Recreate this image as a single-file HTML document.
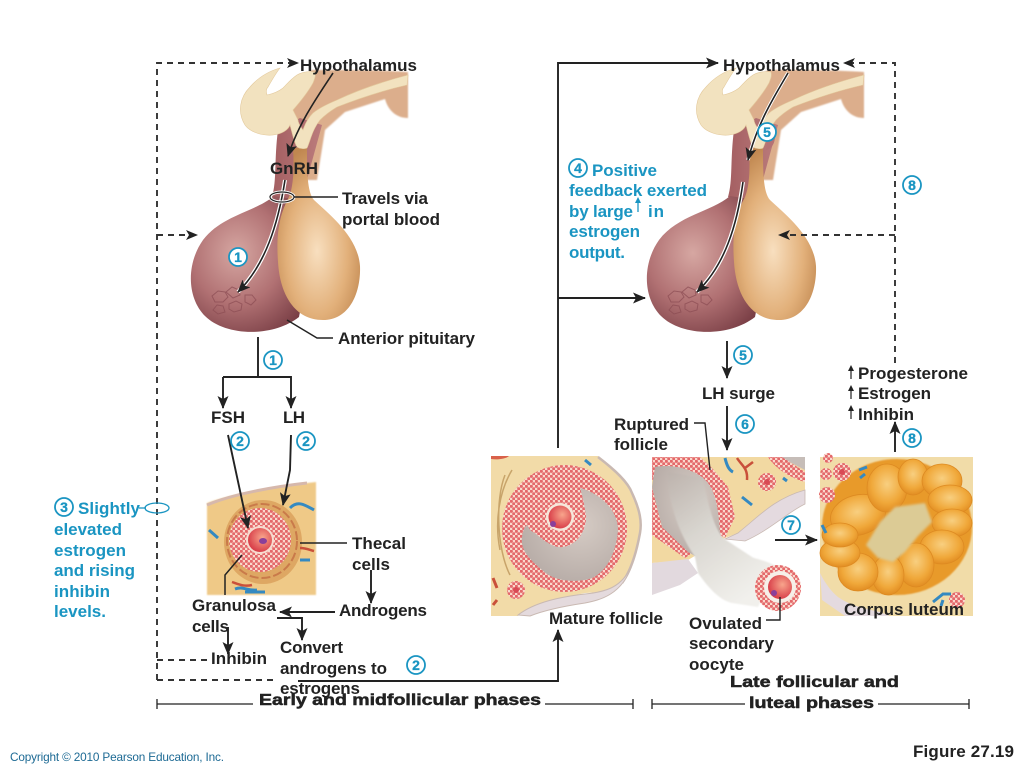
<!DOCTYPE html>
<html><head><meta charset="utf-8"><title>Figure 27.19</title>
<style>
html,body{margin:0;padding:0;background:#fff;width:1024px;height:768px;overflow:hidden}
svg{display:block}
text{font-family:"Liberation Sans",Arial,sans-serif;font-weight:bold;font-size:17px;fill:#222}
.t text,text.t{fill:#1a95c2}
.n circle{fill:#fff;stroke:#1a95c2;stroke-width:1.8}
.n text{fill:#1a95c2;font-size:14px;text-anchor:middle;stroke:#1a95c2;stroke-width:.3}
.l{fill:none;stroke:#222;stroke-width:1.9}
.d{fill:none;stroke:#333;stroke-width:1.9;stroke-dasharray:6 5}
</style></head><body>
<svg width="1024" height="768" viewBox="0 0 1024 768" xmlns="http://www.w3.org/2000/svg">
<defs>
<marker id="a" viewBox="0 0 13 11" refX="12" refY="5.5" markerWidth="13" markerHeight="11" markerUnits="userSpaceOnUse" orient="auto"><path d="M0 0L13 5.5L0 11L3 5.5Z" fill="#222"/></marker>
<radialGradient id="lr" cx=".38" cy=".42" r=".68"><stop offset="0" stop-color="#d6a7a2"/><stop offset=".55" stop-color="#b17173"/><stop offset="1" stop-color="#7a3f46"/></radialGradient>
<radialGradient id="lt" cx=".48" cy=".6" r=".62"><stop offset="0" stop-color="#f8dfbf"/><stop offset=".6" stop-color="#e2b07a"/><stop offset="1" stop-color="#c08750"/></radialGradient>
<linearGradient id="st" x1="0" x2="1"><stop offset="0" stop-color="#a45f62"/><stop offset="1" stop-color="#bb7c7c"/></linearGradient>
<linearGradient id="jet" x1="0" y1="0" x2=".6" y2="1"><stop offset="0" stop-color="#bdb3ad"/><stop offset=".45" stop-color="#d9d6d0"/><stop offset="1" stop-color="#f1f0ec"/></linearGradient>
<pattern id="g" width="5" height="5" patternUnits="userSpaceOnUse"><rect width="5" height="5" fill="#f9d8cc"/><circle cx="1.3" cy="1.3" r="1.6" fill="#e4676a"/><circle cx="3.8" cy="3.8" r="1.6" fill="#e4676a"/></pattern>
<radialGradient id="egg" cx=".6" cy=".4" r=".6"><stop offset="0" stop-color="#f8a58c"/><stop offset="1" stop-color="#d9404a"/></radialGradient>
<radialGradient id="ant" cx=".6" cy=".4" r=".7"><stop offset="0" stop-color="#d6ccc5"/><stop offset="1" stop-color="#b5aaa5"/></radialGradient>
<radialGradient id="lob" cx=".5" cy=".42" r=".6"><stop offset="0" stop-color="#f8cf80"/><stop offset=".65" stop-color="#f0a83a"/><stop offset="1" stop-color="#e08a20"/></radialGradient>
<filter id="b"><feGaussianBlur stdDeviation=".7"/></filter>
<filter id="s"><feGaussianBlur stdDeviation=".35"/></filter>
<filter id="b2"><feGaussianBlur stdDeviation="1.2"/></filter>
<g id="pit">
<path d="M312 70C345 70 380 70 408 72L408 118C396 118 388 110 385 99L345 112L325 130L317 180L296 180L285 130L290 85Z" fill="#dcae8c" filter="url(#b)"/>
<path d="M278 130C274 160 277 180 272 197L300 205L322 125L300 118Z" fill="url(#st)"/>
<path d="M274 196C255 212 222 215 203 240C186 264 187 298 205 316C225 336 272 338 299 317L312 250L300 200Z" fill="url(#lr)"/>
<path d="M293 148C294 165 294 185 289 197C279 215 276 235 278 262C280 295 295 320 323 320C350 320 361 292 360 266C358 237 330 215 314 200C307 192 307 170 307 148Z" fill="url(#lt)"/>
<path d="M280 68C266 72 256 80 250 87C240 97 237 112 245 125C250 132 262 136 273 135C282 134 288 130 290 125C292 132 294 142 297 147C300 149 305 149 307 148C310 142 312 130 320 120C326 114 332 110 337 107C360 98 385 90 407 85L408 75C385 81 358 90 337 100C325 105 318 109 313 113C308 118 305 124 303 130C300 126 298 122 298 120C296 116 294 112 293 110C300 102 308 92 313 83C315 78 316 75 315 72C308 71 302 72 297 75C291 79 287 84 283 88C278 92 272 94 267 95C266 92 266 89 268 87C272 80 276 73 280 68Z" fill="#f2e2bf" stroke="#e3c99c" stroke-width=".6"/>
<g fill="none" stroke="#8a4c52" stroke-width="1" opacity=".7"><path d="M212 296l6-5 7 1 3 5-5 5-8 0zM226 292l6-5 7 3 1 5-7 3zM229 304l7-3 6 3-1 6-7 2-5-3zM245 295l7 0 4 5-5 5-6-3zM217 305l6 1 2 6-7 2-5-4z"/></g>
</g>
</defs>
<rect width="1024" height="768" fill="#fff"/>
<use href="#pit"/>
<use href="#pit" x="456"/>
<path d="M766 150c8 -2 9 -10 9 -14l-8 2c1 4 -1 8 -1 12z" fill="#b57275"/>

<!-- left pituitary arrows -->
<path d="M333 73C315 100 298 125 288 156" fill="none" stroke="#222" stroke-width="1.6" marker-end="url(#a)"/>
<path d="M285 180C278 225 265 265 238 292" fill="none" stroke="#fff" stroke-width="4"/>
<path d="M285 180C278 225 265 265 238 292" fill="none" stroke="#222" stroke-width="1.6" marker-end="url(#a)"/>
<ellipse cx="282" cy="197" rx="12" ry="5" fill="none" stroke="#fff" stroke-width="3"/>
<ellipse cx="282" cy="197" rx="12" ry="5" fill="none" stroke="#222" stroke-width="1.2"/>
<path class="l" style="stroke-width:1.4" d="M294 197H338M287 320L317 338H333"/>
<!-- right pituitary arrows -->
<path d="M788 73C772 100 757 125 748 160" fill="none" stroke="#fff" stroke-width="3.5"/>
<path d="M788 73C772 100 757 125 748 160" fill="none" stroke="#222" stroke-width="1.6" marker-end="url(#a)"/>
<path d="M743 182C737 225 725 265 697 292" fill="none" stroke="#fff" stroke-width="4"/>
<path d="M743 182C737 225 725 265 697 292" fill="none" stroke="#222" stroke-width="1.6" marker-end="url(#a)"/>

<!-- connectors -->
<path class="d" d="M157 680V63H290"/><path d="M287 58L299 63L287 68L290 63Z" fill="#222"/>
<path class="d" d="M157 235H190"/><path d="M186 230L198 235L186 240L189 235Z" fill="#222"/>
<path class="d" d="M157 660H208M157 680H274"/>
<path class="l" d="M558 448V63H718" marker-end="url(#a)"/>
<path class="l" d="M558 298H645" marker-end="url(#a)"/>
<path class="l" d="M298 681H558V630" marker-end="url(#a)"/>
<path class="d" d="M895 363V63H850"/><path d="M855 58L843 63L855 68L852 63Z" fill="#222"/>
<path class="d" d="M895 235H785"/><path d="M790 230L778 235L790 240L787 235Z" fill="#222"/>
<path class="l" d="M258 337V377M223 377H291V408" marker-end="url(#a)"/>
<path class="l" d="M223 377V408" marker-end="url(#a)"/>
<path class="l" d="M727 341V378" marker-end="url(#a)"/>
<path class="l" d="M727 406V450" marker-end="url(#a)"/>
<path class="l" d="M895 452V422" marker-end="url(#a)"/>
<path class="l" d="M775 540H817" marker-end="url(#a)"/>
<path class="l" d="M157 699V709M157 704H253M545 704H633M633 699V709M652 699V709M652 704H745M878 704H969M969 699V709" style="stroke-width:1.3"/>
<g fill="#222"><path d="M851 379V369" stroke="#222" stroke-width="1.2"/><path d="M851 365l-3 6h6z"/><path d="M851 399V389" stroke="#222" stroke-width="1.2"/><path d="M851 385l-3 6h6z"/><path d="M851 419V409" stroke="#222" stroke-width="1.2"/><path d="M851 405l-3 6h6z"/></g>
<path d="M638 212V201" stroke="#1a95c2" stroke-width="1.3"/><path d="M638 197l-3 6h6z" fill="#1a95c2"/>

<!-- small follicle -->
<g>
<path d="M207 503C235 493 280 486 316 482V595H207Z" fill="#efc987" filter="url(#b)"/>
<path d="M207 505C235 493 280 486 307 483" fill="none" stroke="#d6b8ac" stroke-width="3"/>
<ellipse cx="263" cy="542" rx="39" ry="42" fill="#dea763"/>
<ellipse cx="262" cy="541" rx="35" ry="37" fill="none" stroke="#c97a4a" stroke-width="2" stroke-dasharray="9 3"/>
<ellipse cx="260" cy="540" rx="31" ry="32" fill="url(#g)" filter="url(#s)"/>
<circle cx="260" cy="540" r="14" fill="#f7dcd0"/><circle cx="260" cy="540" r="12" fill="url(#egg)"/>
<ellipse cx="263" cy="541" rx="4" ry="3" fill="#8a3f9a"/>
<path d="M290 508C298 500 305 505 314 510" fill="none" stroke="#3489c1" stroke-width="3"/>
<path d="M209 530l9 8M300 560h10M235 589c8-3 12 2 22 1M245 592h20" stroke="#3489c1" stroke-width="3" fill="none"/>
<path d="M300 548c6 0 10 2 14 3M232 582c6 2 12 5 20 3" stroke="#c9503a" stroke-width="2.5" fill="none"/>
</g>
<path d="M228 435L248 528" class="l" marker-end="url(#a)"/>
<path d="M291 435L290 470L283 505" class="l" marker-end="url(#a)"/>
<path class="l" style="stroke-width:1.5" d="M300 543H347M242 555L225 575V595"/>
<path class="l" d="M371 570V603" marker-end="url(#a)"/>
<path class="l" d="M335 612H280" marker-end="url(#a)"/>
<path class="l" d="M277 618H302V640" marker-end="url(#a)"/>
<path class="l" d="M228 627V654" marker-end="url(#a)"/>

<!-- mature follicle -->
<g>
<path d="M491 456H598C615 470 628 482 632 493C640 510 642 522 640 533C636 555 630 572 622 583C610 592 600 592 585 593C560 598 535 605 518 616H491Z" fill="#f2dba8" filter="url(#s)"/>
<path d="M598 457C615 470 628 482 632 493C640 510 642 522 640 533C636 555 630 572 622 583" fill="none" stroke="#c9b9b2" stroke-width="2.5"/>
<path d="M518 615C535 602 560 597 585 594C605 592 622 588 632 565C622 595 600 600 585 603C565 606 545 610 530 616Z" fill="#e4dadd" stroke="#c9b9b2" stroke-width="1"/>
<path d="M505 475C495 500 497 550 510 575M512 470C500 490 494 520 500 550" stroke="#c8a46a" stroke-width="1.5" fill="none"/>
<ellipse cx="564.5" cy="528.5" rx="62.5" ry="63.5" fill="url(#g)" filter="url(#s)"/>
<path d="M580 488C600 493 618 510 618 530C616 558 602 578 585 580C565 583 550 578 542 570C530 560 520 550 522 537C523 530 525 526 527 525C530 530 532 532 535 533C545 542 555 548 562 547C572 546 578 540 582 533C586 525 587 518 585 510C584 502 582 495 580 488Z" fill="url(#ant)"/>
<circle cx="560" cy="517" r="14" fill="#f6e7da"/><circle cx="560" cy="517" r="11.5" fill="url(#egg)"/>
<circle cx="553" cy="524" r="3" fill="#8a3f9a"/>
<circle cx="516" cy="590" r="9" fill="url(#g)"/><circle cx="516" cy="590" r="3" fill="#d94a55"/>
<path d="M493 578l4 10M493 605l4-5" stroke="#c9503a" stroke-width="3"/>
<path d="M491 456h18c-3 3-12 4-18 3z" fill="#d9614a"/>
<path d="M585 460l6 5" stroke="#3489c1" stroke-width="3"/>
</g>

<!-- ruptured follicle -->
<g>
<path d="M652 457H805V490L762 513L738 533L725 538L688 560L652 563Z" fill="#f2d9a2" filter="url(#s)"/>
<path d="M805 490C780 497 765 510 750 523L738 533L725 539L745 541C770 530 788 512 805 504Z" fill="#e4dadf" stroke="#c9b9b2" stroke-width=".8"/>
<path d="M652 563L688 559L698 573L680 585L652 595Z" fill="#e2d9de"/>
<path d="M780 457H805V470Z" fill="#c6bdb8"/>
<path d="M768 457H782L805 472V482C790 478 775 468 768 457Z" fill="url(#g)" filter="url(#s)"/>
<path d="M652 457H700L712 468L728 487L735 517L725 538L720 535L702 500L690 480H652Z" fill="url(#g)" filter="url(#s)"/>
<path d="M652 487L662 527L692 553L685 558L652 535Z" fill="url(#g)" filter="url(#s)"/>
<path d="M655 467C670 464 690 468 702 477C712 485 718 497 720 533L722 538L695 556L688 552L662 527L652 487Z" fill="url(#ant)"/>
<path d="M695 557L698 573C710 590 720 600 732 603L758 607L778 567C765 560 752 558 752 557L723 538C712 525 708 500 702 478L668 472C668 505 680 535 695 557Z" fill="url(#jet)" filter="url(#b)"/>
<circle cx="778" cy="588" r="23" fill="url(#g)" filter="url(#s)"/>
<circle cx="780" cy="587" r="16" fill="#f6efe8"/><circle cx="780" cy="587" r="12" fill="url(#egg)"/>
<circle cx="774" cy="593" r="3" fill="#8a3f9a"/>
<circle cx="767" cy="482" r="9" fill="url(#g)"/><circle cx="767" cy="482" r="3" fill="#d94a55"/>
<path d="M725 458C727 466 729 470 733 472" stroke="#3489c1" stroke-width="3" fill="none"/>
<path d="M737 458C742 466 748 468 747 480M745 468l8-6" stroke="#c9503a" stroke-width="2.5" fill="none"/>
<path d="M742 497l10 8M783 478l4 3" stroke="#3489c1" stroke-width="3" fill="none"/>
</g>
<path class="l" style="stroke-width:1.4" d="M694 423H705L710 470"/>
<path class="l" style="stroke-width:1.4" d="M766 620H780V597"/>

<!-- corpus luteum -->
<g>
<rect x="820" y="457" width="153" height="159" fill="#f1dca8" filter="url(#s)"/>
<path d="M820 573C826 585 832 592 838 597C848 604 860 608 880 612L890 616H845L822 600Z" fill="#e4dadf"/>
<ellipse cx="897" cy="527" rx="75" ry="68" fill="#e89a2c" filter="url(#b)"/>
<g fill="url(#lob)" stroke="#dd8a22" stroke-width=".8">
<ellipse cx="858" cy="515" rx="28" ry="20" transform="rotate(-15 858 515)"/>
<ellipse cx="887" cy="488" rx="20" ry="24"/>
<ellipse cx="913" cy="477" rx="15" ry="18"/>
<ellipse cx="942" cy="481" rx="20" ry="17"/>
<ellipse cx="950" cy="500" rx="22" ry="15"/>
<ellipse cx="952" cy="523" rx="20" ry="14"/>
<ellipse cx="942" cy="547" rx="22" ry="17"/>
<ellipse cx="916" cy="565" rx="18" ry="22"/>
<ellipse cx="888" cy="575" rx="16" ry="20"/>
<ellipse cx="858" cy="572" rx="20" ry="19"/>
<ellipse cx="840" cy="553" rx="20" ry="14"/>
<ellipse cx="840" cy="535" rx="18" ry="12"/>
</g>
<path d="M866 545L880 522L895 507L925 503L932 522L918 536L905 552L893 562L878 558Z" fill="#dccb95" filter="url(#b2)"/>
<circle cx="842" cy="472" r="9" fill="url(#g)"/><circle cx="842" cy="472" r="3" fill="#d94a55"/>
<circle cx="826" cy="474" r="6" fill="url(#g)"/>
<circle cx="827" cy="495" r="8" fill="url(#g)"/><circle cx="828" cy="458" r="5" fill="url(#g)"/>
<circle cx="957" cy="600" r="8" fill="url(#g)"/>
<path d="M859 470l8-3M860 478l5-4M822 525l4 8M933 602l10-8h8M943 600l-2 6" stroke="#3489c1" stroke-width="3" fill="none"/>
</g>

<!-- labels -->
<g>
<text x="300" y="71" textLength="117">Hypothalamus</text>
<text x="723" y="71" textLength="117">Hypothalamus</text>
<text x="270" y="174" textLength="48">GnRH</text>
<text x="342" y="204" textLength="86">Travels via</text>
<text x="342" y="225" textLength="98">portal blood</text>
<text x="338" y="344" textLength="137">Anterior pituitary</text>
<text x="211" y="423" textLength="34">FSH</text>
<text x="283" y="423" textLength="22">LH</text>
<text x="352" y="549" textLength="54">Thecal</text>
<text x="352" y="570" textLength="38">cells</text>
<text x="339" y="616" textLength="88">Androgens</text>
<text x="192" y="611" textLength="84">Granulosa</text>
<text x="192" y="632" textLength="37">cells</text>
<text x="211" y="664" textLength="56">Inhibin</text>
<text x="280" y="653" textLength="63">Convert</text>
<text x="280" y="674" textLength="107">androgens to</text>
<text x="280" y="694" textLength="80">estrogens</text>
<text x="549" y="624" textLength="114">Mature follicle</text>
<text x="689" y="629" textLength="73">Ovulated</text>
<text x="689" y="649" textLength="85">secondary</text>
<text x="689" y="670" textLength="55">oocyte</text>
<text x="844" y="615" textLength="120">Corpus luteum</text>
<text x="614" y="430" textLength="75">Ruptured</text>
<text x="614" y="450" textLength="54">follicle</text>
<text x="702" y="399" textLength="73">LH surge</text>
<text x="858" y="379" textLength="110">Progesterone</text>
<text x="858" y="399" textLength="73">Estrogen</text>
<text x="858" y="420" textLength="56">Inhibin</text>
<text x="259" y="705" textLength="282" lengthAdjust="spacingAndGlyphs" stroke="#222" stroke-width=".5" style="font-size:16px">Early and midfollicular phases</text>
<text x="730" y="687" textLength="169" lengthAdjust="spacingAndGlyphs" stroke="#222" stroke-width=".5" style="font-size:16px">Late follicular and</text>
<text x="749" y="708" textLength="125" lengthAdjust="spacingAndGlyphs" stroke="#222" stroke-width=".5" style="font-size:16px">luteal phases</text>
<text x="913" y="757" textLength="101">Figure 27.19</text>
<text x="10" y="761" textLength="214" style="font-weight:normal;font-size:11.8px;fill:#1d6a94">Copyright © 2010 Pearson Education, Inc.</text>
</g>
<g class="t">
<text x="78" y="514" textLength="62">Slightly</text>
<text x="54" y="535" textLength="68">elevated</text>
<text x="54" y="556" textLength="72">estrogen</text>
<text x="54" y="576" textLength="81">and rising</text>
<text x="54" y="597" textLength="56">inhibin</text>
<text x="54" y="617" textLength="52">levels.</text>
<text x="592" y="176" textLength="65">Positive</text>
<text x="569" y="196" textLength="138">feedback exerted</text>
<text x="569" y="217" textLength="64">by large</text>
<text x="648" y="217" textLength="16">in</text>
<text x="569" y="237" textLength="71">estrogen</text>
<text x="569" y="258" textLength="56">output.</text>
</g>
<path d="M139 508H146" stroke="#1a95c2" stroke-width="1.3"/>
<ellipse cx="157" cy="508" rx="12" ry="5" fill="none" stroke="#1a95c2" stroke-width="1.3"/>
<g class="n">
<circle cx="238" cy="257" r="9"/><text x="238" y="262">1</text>
<circle cx="273" cy="360" r="9"/><text x="273" y="365">1</text>
<circle cx="240" cy="441" r="9"/><text x="240" y="446">2</text>
<circle cx="306" cy="441" r="9"/><text x="306" y="446">2</text>
<circle cx="64" cy="507" r="9"/><text x="64" y="512">3</text>
<circle cx="416" cy="665" r="9"/><text x="416" y="670">2</text>
<circle cx="578" cy="168" r="9"/><text x="578" y="173">4</text>
<circle cx="767" cy="132" r="9"/><text x="767" y="137">5</text>
<circle cx="743" cy="355" r="9"/><text x="743" y="360">5</text>
<circle cx="912" cy="185" r="9"/><text x="912" y="190">8</text>
<circle cx="745" cy="424" r="9"/><text x="745" y="429">6</text>
<circle cx="912" cy="438" r="9"/><text x="912" y="443">8</text>
<circle cx="791" cy="525" r="9"/><text x="791" y="530">7</text>
</g>
</svg>
</body></html>
